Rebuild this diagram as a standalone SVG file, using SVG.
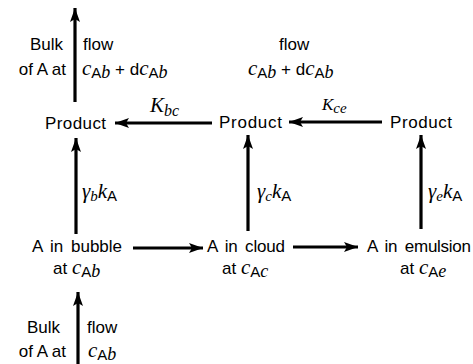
<svg xmlns="http://www.w3.org/2000/svg" width="473" height="364" viewBox="0 0 473 364">
<style>
.t{font-family:"Liberation Sans","Helvetica",Arial,sans-serif;font-size:17px;fill:#000}
.m{font-family:"Liberation Serif","Times New Roman",serif;font-style:italic}
.c{font-size:21px}
.a{font-size:15px}
.b{font-size:18px}
.ln{stroke:#000;stroke-width:3.2;fill:none}
</style>
<defs>
<marker id="ah" markerUnits="userSpaceOnUse" markerWidth="15" markerHeight="10" refX="14" refY="5" orient="auto">
<path d="M0,0 L14,5 L0,10 L3,5 z" fill="#000"/>
</marker>
</defs>
<rect width="473" height="364" fill="#fff"/>
<g id="connectors">
<line class="ln" x1="75" y1="102" x2="75" y2="8" marker-end="url(#ah)"/>
<line class="ln" x1="212" y1="123" x2="115" y2="123" marker-end="url(#ah)"/>
<line class="ln" x1="382" y1="122" x2="289" y2="122" marker-end="url(#ah)"/>
<line class="ln" x1="76" y1="234" x2="76" y2="138" marker-end="url(#ah)"/>
<line class="ln" x1="248" y1="231" x2="248" y2="135" marker-end="url(#ah)"/>
<line class="ln" x1="421" y1="229" x2="421" y2="135" marker-end="url(#ah)"/>
<line class="ln" x1="133" y1="248" x2="203" y2="248" marker-end="url(#ah)"/>
<line class="ln" x1="293" y1="247" x2="358" y2="247" marker-end="url(#ah)"/>
<line class="ln" x1="78" y1="364" x2="78" y2="292" marker-end="url(#ah)"/>
<text class="t" x="150" y="112"><tspan class="m" style="font-size:21px">K</tspan><tspan class="m" style="font-size:16px" dy="4">bc</tspan></text>
<text class="t" x="322" y="110"><tspan class="m" style="font-size:17px">K</tspan><tspan class="m" style="font-size:15px" dy="3">ce</tspan></text>
<text class="t" x="82" y="198"><tspan class="m c">γ</tspan><tspan class="m a" dy="3">b</tspan><tspan class="m c" dy="-3">k</tspan><tspan class="a" dy="3">A</tspan></text>
<text class="t" x="257" y="198"><tspan class="m c">γ</tspan><tspan class="m a" dy="3">c</tspan><tspan class="m c" dy="-3">k</tspan><tspan class="a" dy="3">A</tspan></text>
<text class="t" x="428" y="198"><tspan class="m c">γ</tspan><tspan class="m a" dy="3">e</tspan><tspan class="m c" dy="-3">k</tspan><tspan class="a" dy="3">A</tspan></text>
</g>
<g id="bulk-in-top">
<text class="t" x="63" y="50" text-anchor="end">Bulk</text>
<text class="t" x="83" y="50">flow</text>
<text class="t" x="66" y="75" text-anchor="end">of A at</text>
<text class="t" x="82" y="75"><tspan class="m c">c</tspan><tspan class="a" dy="3">A</tspan><tspan class="m b">b</tspan><tspan dy="-3" xml:space="preserve"> + d</tspan><tspan class="m c">c</tspan><tspan class="a" dy="3">A</tspan><tspan class="m b">b</tspan></text>
</g>
<g id="flow-mid-top">
<text class="t" x="279" y="50">flow</text>
<text class="t" x="248" y="75"><tspan class="m c">c</tspan><tspan class="a" dy="3">A</tspan><tspan class="m b">b</tspan><tspan dy="-3"> + d</tspan><tspan class="m c">c</tspan><tspan class="a" dy="3">A</tspan><tspan class="m b">b</tspan></text>
</g>
<g id="product-b"><text class="t" x="45" y="129" textLength="61">Product</text></g>
<g id="product-c"><text class="t" x="219" y="128" textLength="63">Product</text></g>
<g id="product-e"><text class="t" x="390" y="128" textLength="62">Product</text></g>
<g id="bubble">
<text class="t" x="32" y="252" textLength="90" word-spacing="3">A in bubble</text>
<text class="t" x="53" y="274">at <tspan class="m c">c</tspan><tspan class="a" dy="3">A</tspan><tspan class="m b">b</tspan></text>
</g>
<g id="cloud">
<text class="t" x="207" y="252" textLength="78" word-spacing="3">A in cloud</text>
<text class="t" x="222" y="274">at <tspan class="m c">c</tspan><tspan class="a" dy="3">A</tspan><tspan class="m b">c</tspan></text>
</g>
<g id="emulsion">
<text class="t" x="367" y="252" textLength="104" word-spacing="3">A in emulsion</text>
<text class="t" x="400" y="274">at <tspan class="m c">c</tspan><tspan class="a" dy="3">A</tspan><tspan class="m b">e</tspan></text>
</g>
<g id="bulk-in-bottom">
<text class="t" x="60" y="333" text-anchor="end">Bulk</text>
<text class="t" x="87" y="333">flow</text>
<text class="t" x="66" y="357" text-anchor="end">of A at</text>
<text class="t" x="88" y="357"><tspan class="m c">c</tspan><tspan class="a" dy="3">A</tspan><tspan class="m b">b</tspan></text>
</g>
</svg>
